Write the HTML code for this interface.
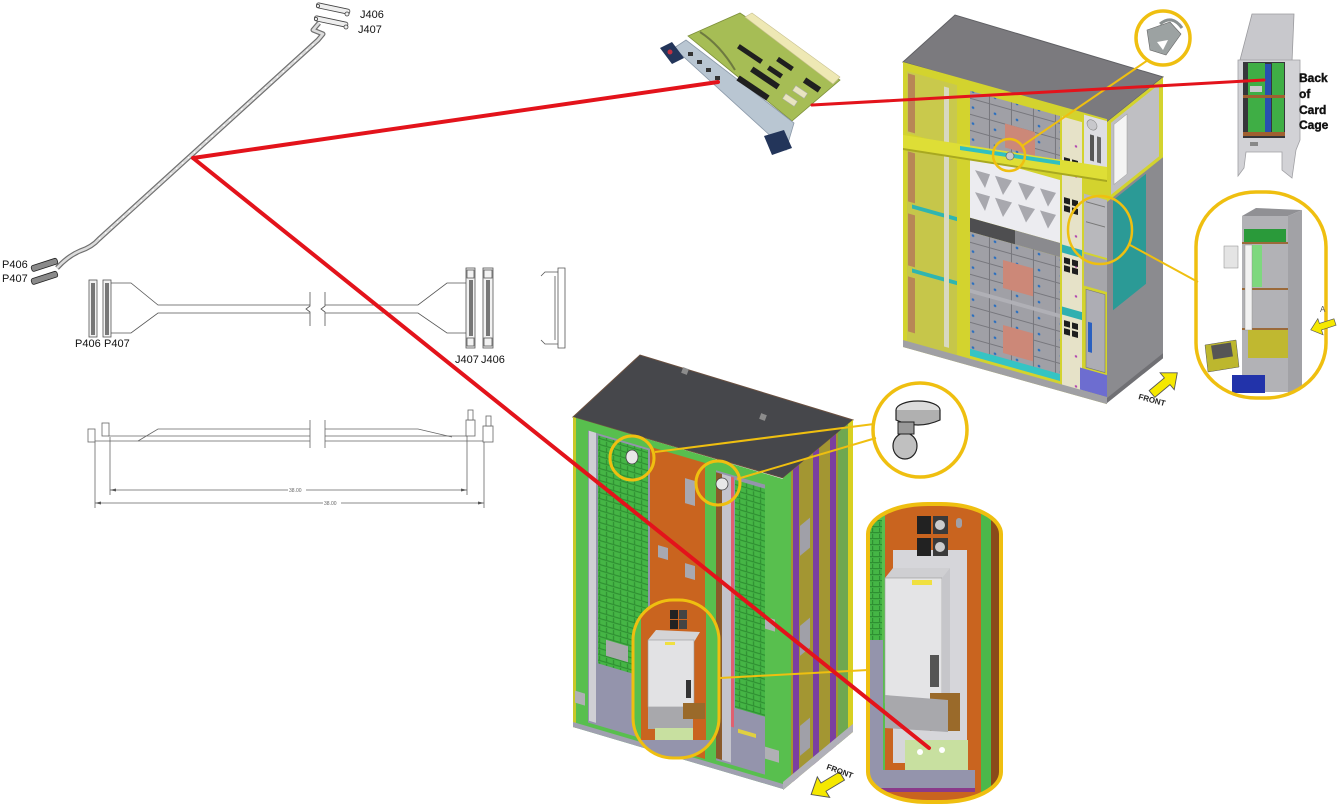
<!DOCTYPE html>
<html><head><meta charset="utf-8">
<style>
html,body{margin:0;padding:0;background:#fff;}
svg{display:block;}
text{font-family:"Liberation Sans",Arial,sans-serif;}
</style></head><body>
<svg width="1339" height="805" viewBox="0 0 1339 805" xmlns="http://www.w3.org/2000/svg">
<defs>
  <pattern id="pcb" width="7" height="6" patternUnits="userSpaceOnUse">
    <rect width="7" height="6" fill="#45b545"/>
    <rect x="0" y="4" width="7" height="1.2" fill="#2f8f32"/>
    <rect x="4" y="0" width="1.2" height="4" fill="#2f8f32"/>
  </pattern>
  <pattern id="mod" width="22" height="16" patternUnits="userSpaceOnUse">
    <rect width="22" height="16" fill="#a0a0a6"/>
    <rect x="0" y="15" width="22" height="1" fill="#77777d"/>
    <rect x="21" y="0" width="1" height="16" fill="#77777d"/>
    <circle cx="5" cy="8" r="1.3" fill="#2a6fc0"/>
  </pattern>
  <pattern id="beige" width="20" height="30" patternUnits="userSpaceOnUse">
    <rect width="20" height="30" fill="#e6e2c8"/>
    <circle cx="16" cy="8" r="1.2" fill="#b040b0"/>
  </pattern>
  <clipPath id="capL"><rect x="868" y="504" width="133" height="298" rx="60" ry="30"/></clipPath>
  <clipPath id="capS"><rect x="633" y="600" width="86" height="158" rx="40" ry="40"/></clipPath>
  <clipPath id="capR"><rect x="1196" y="192" width="130" height="206" rx="60" ry="55"/></clipPath>
</defs>
<rect width="1339" height="805" fill="#fff"/>

<!-- ============ Isometric cable (top-left) ============ -->
<path d="M57,268 Q68,256 80,251 Q92,247 99,239 L318,40 L323,34 L313,30 L319,23" fill="none" stroke="#6f6f6f" stroke-width="5" stroke-linejoin="round"/>
<path d="M57,268 Q68,256 80,251 Q92,247 99,239 L318,40 L323,34 L313,30 L319,23" fill="none" stroke="#dcdcdc" stroke-width="2.6" stroke-linejoin="round"/>
<path d="M99,239 L318,40" fill="none" stroke="#fff" stroke-width="1" stroke-dasharray="2 6"/>
<g stroke="#444" stroke-width="0.8" fill="#eee">
  <rect x="316" y="6" width="34" height="5" rx="2" transform="rotate(12 333 9)"/>
  <rect x="314" y="19" width="34" height="5" rx="2" transform="rotate(12 331 22)"/>
  <circle cx="347" cy="14" r="2"/><circle cx="346" cy="27" r="2"/>
  <circle cx="318" cy="6" r="1.6"/><circle cx="316" cy="19" r="1.6"/>
</g>
<g stroke="#222" stroke-width="0.8" fill="#8a8a8a">
  <rect x="31" y="262" width="27" height="6" rx="2" transform="rotate(-18 44 265)"/>
  <rect x="31" y="275" width="27" height="6" rx="2" transform="rotate(-18 44 278)"/>
</g>
<text x="360" y="18" font-size="11" fill="#111">J406</text>
<text x="358" y="33" font-size="11" fill="#111">J407</text>
<text x="2" y="268" font-size="11" fill="#111">P406</text>
<text x="2" y="282" font-size="11" fill="#111">P407</text>

<!-- ============ Flat cable drawing ============ -->
<g stroke="#555" stroke-width="0.8" fill="none">
  <rect x="89" y="280" width="8" height="57" fill="#f2f2f2"/>
  <rect x="103" y="280" width="8" height="57" fill="#f2f2f2"/>
  <path d="M111,283 L131,283 L158,305 L310,305 M111,333 L131,333 L158,313 L310,313"/>
  <path d="M325,305 L418,305 L447,283 L466,283 M325,313 L418,313 L447,333 L466,333"/>
  <path d="M310,292 L310,306 L306,309 L310,312 L310,326 M325,292 L325,306 L321,309 L325,312 L325,326"/>
  <rect x="466" y="268" width="9" height="80" fill="#f2f2f2"/>
  <rect x="483" y="268" width="10" height="80" fill="#f2f2f2"/>
  <rect x="467" y="270" width="7" height="8"/><rect x="467" y="338" width="7" height="8"/>
  <rect x="484" y="270" width="8" height="8"/><rect x="484" y="338" width="8" height="8"/>
  <path d="M558,268 L565,268 L565,348 L558,348 Z M558,272 L545,272 L541,276 M558,344 L545,344 L541,340 M555,276 L555,340"/>
</g>
<g fill="#777">
  <rect x="91" y="283" width="4" height="52"/><rect x="105" y="283" width="4" height="52"/>
  <rect x="469" y="280" width="4" height="56"/><rect x="486" y="280" width="4" height="56"/>
</g>
<text x="75" y="347" font-size="11" fill="#111">P406</text>
<text x="104" y="347" font-size="11" fill="#111">P407</text>
<text x="455" y="363" font-size="11" fill="#111">J407</text>
<text x="481" y="363" font-size="11" fill="#111">J406</text>

<!-- side view -->
<g stroke="#666" stroke-width="0.8" fill="none">
  <path d="M90,441 L310,441 M325,441 L493,441"/>
  <path d="M108,436 L310,436 M325,436 L467,436"/>
  <path d="M138,441 L158,429 L310,429 M325,429 L418,429 L452,437"/>
  <path d="M310,420 L310,448 M325,420 L325,448"/>
  <rect x="88" y="429" width="7" height="13" fill="#fff"/>
  <rect x="102" y="423" width="7" height="13" fill="#fff"/>
  <rect x="466" y="420" width="9" height="16" fill="#fff"/><rect x="468" y="410" width="5" height="10" fill="#fff"/>
  <rect x="483" y="426" width="10" height="16" fill="#fff"/><rect x="486" y="416" width="5" height="10" fill="#fff"/>
  <path d="M110,437 L110,495 M467,436 L467,495 M95,442 L95,508 M484,442 L484,508"/>
  <path d="M110,490 L467,490 M95,503 L484,503"/>
</g>
<g fill="#555"><path d="M110,490 l6,-1.5 l0,3z M467,490 l-6,-1.5 l0,3z M95,503 l6,-1.5 l0,3z M484,503 l-6,-1.5 l0,3z"/></g>
<rect x="288" y="487" width="18" height="6" fill="#fff"/><rect x="323" y="500" width="18" height="6" fill="#fff"/>
<text x="289" y="492" font-size="5" fill="#666">38.00</text>
<text x="324" y="505" font-size="5" fill="#666">38.00</text>

<!-- ============ PCB card ============ -->
<polygon points="688,36 740,13 840,80 792,121" fill="#a6bd55" stroke="#7d8f3a" stroke-width="0.8"/>
<polygon points="745,17 752,13 840,77 833,84" fill="#eee8b4" stroke="#c8c090" stroke-width="0.6"/>
<polygon points="674,48 686,40 794,123 786,150" fill="#b9c6d2" stroke="#8a98a8" stroke-width="0.8"/>
<g fill="#1f1f1f">
  <rect x="-14" y="-2.5" width="28" height="5" transform="translate(750,54) rotate(34)"/>
  <rect x="-16" y="-3" width="32" height="6" transform="translate(765,78) rotate(34)"/>
  <rect x="-18" y="-3" width="36" height="6" transform="translate(753,88) rotate(34)"/>
  <rect x="-9" y="-2.5" width="18" height="5" transform="translate(785,64) rotate(34)"/>
  <rect x="-8" y="-2.5" width="16" height="5" transform="translate(775,72) rotate(34)"/>
  <rect x="-9" y="-3" width="18" height="6" transform="translate(812,85) rotate(34)"/>
</g>
<g fill="#e8e4c0" stroke="#aaa" stroke-width="0.5">
  <rect x="-7" y="-3" width="14" height="6" transform="translate(790,100) rotate(34)"/>
  <rect x="-7" y="-3" width="14" height="6" transform="translate(800,92) rotate(34)"/>
</g>
<path d="M700,32 Q720,45 735,70" stroke="#6e7a40" stroke-width="2" fill="none"/>
<g fill="#333"><rect x="688" y="52" width="5" height="4"/><rect x="697" y="60" width="5" height="4"/><rect x="706" y="68" width="5" height="4"/><rect x="715" y="76" width="5" height="4"/></g>
<polygon points="660,48 672,42 684,58 672,64" fill="#23355a"/>
<circle cx="670" cy="52" r="2.5" fill="#c03040"/>
<polygon points="764,136 784,130 792,148 772,155" fill="#23355a"/>

<!-- ============ Upper cabinet ============ -->
<polygon points="903,62 955,15 1163,77 1107,122" fill="#7b7a7e" stroke="#606064" stroke-width="1"/>
<g transform="matrix(1,0.28,0,1,0,-252.84)">
  <rect x="903" y="62" width="204" height="285" fill="#d3d32e"/>
  <rect x="907" y="70" width="50" height="62" fill="#c9c94c"/>
  <rect x="908" y="72" width="7" height="58" fill="#b88656"/>
  <rect x="907" y="145" width="50" height="195" fill="#c6c64a"/>
  <rect x="908" y="150" width="7" height="50" fill="#b88656"/>
  <rect x="908" y="212" width="7" height="52" fill="#b88656"/>
  <rect x="908" y="275" width="7" height="55" fill="#b88656"/>
  <rect x="912" y="202" width="45" height="4" fill="#2fb5b0"/>
  <rect x="912" y="266" width="45" height="4" fill="#2fb5b0"/>
  <rect x="944" y="75" width="5" height="260" fill="#d8d8c0"/>
  <rect x="970" y="72" width="90" height="55" fill="url(#mod)"/>
  <rect x="1005" y="95" width="30" height="24" fill="#cc8878"/>
  <rect x="970" y="136" width="90" height="63" fill="#ececf0"/>
  <g fill="#a8a8ae">
    <polygon points="975,150 990,150 985,165"/><polygon points="995,150 1012,150 1003,167"/>
    <polygon points="1018,150 1035,150 1026,166"/><polygon points="1040,150 1056,150 1048,166"/>
    <polygon points="975,172 990,172 985,188"/><polygon points="995,172 1012,172 1003,189"/>
    <polygon points="1018,172 1035,172 1026,188"/><polygon points="1040,172 1056,172 1048,188"/>
  </g>
  <rect x="970" y="199" width="45" height="14" fill="#4e4e50"/>
  <rect x="1015" y="199" width="45" height="14" fill="#8a8a8e"/>
  <rect x="970" y="213" width="90" height="118" fill="url(#mod)"/>
  <rect x="1003" y="232" width="30" height="28" fill="#cc8878"/>
  <rect x="1003" y="297" width="30" height="28" fill="#cc8878"/>
  <rect x="970" y="270" width="90" height="4" fill="#b0b0b6"/>
  <rect x="970" y="330" width="90" height="7" fill="#35c4c4"/>
  <rect x="1062" y="72" width="20" height="270" fill="url(#beige)"/>
  <g fill="#1e1e1e">
    <rect x="1064" y="112" width="6" height="6"/><rect x="1072" y="112" width="6" height="6"/>
    <rect x="1064" y="120" width="6" height="6"/><rect x="1072" y="120" width="6" height="6"/>
    <rect x="1064" y="152" width="6" height="6"/><rect x="1072" y="152" width="6" height="6"/>
    <rect x="1064" y="160" width="6" height="6"/><rect x="1072" y="160" width="6" height="6"/>
    <rect x="1064" y="212" width="6" height="6"/><rect x="1072" y="212" width="6" height="6"/>
    <rect x="1064" y="220" width="6" height="6"/><rect x="1072" y="220" width="6" height="6"/>
    <rect x="1064" y="275" width="6" height="6"/><rect x="1072" y="275" width="6" height="6"/>
    <rect x="1064" y="283" width="6" height="6"/><rect x="1072" y="283" width="6" height="6"/>
  </g>
  <rect x="1062" y="200" width="20" height="8" fill="#30b0b0"/>
  <rect x="1062" y="262" width="20" height="8" fill="#30b0b0"/>
  <rect x="1084" y="64" width="23" height="60" fill="#dedee2"/>
  <circle cx="1092" cy="72" r="5" fill="#c8c8cc" stroke="#888" stroke-width="0.6"/>
  <rect x="1090" y="82" width="4" height="26" fill="#555"/><rect x="1097" y="82" width="4" height="26" fill="#666"/>
  <rect x="1084" y="143" width="23" height="58" fill="#b8b8bc"/>
  <rect x="1086" y="150" width="19" height="1" fill="#777"/><rect x="1086" y="170" width="19" height="1" fill="#777"/>
  <rect x="1084" y="203" width="23" height="32" fill="#a6a6aa"/>
  <rect x="1086" y="238" width="19" height="78" fill="#adadb4" stroke="#777" stroke-width="0.6"/>
  <rect x="1088" y="270" width="4" height="30" fill="#2a60c0"/>
  <rect x="1080" y="318" width="27" height="22" fill="#6d6dd0"/>
  <rect x="903" y="340" width="204" height="7" fill="#a0a0a4"/>
</g>
<!-- horizontal beam (actual coords, shallower slope) -->
<polygon points="903,135 1107,167 1107,181 903,149" fill="#dede36"/>
<polygon points="903,148 1107,180 1107,182 903,150" fill="#a8a820"/>
<polygon points="960,146 1060,161 1060,165 960,150" fill="#30c0c0"/>
<g transform="matrix(1,-0.8,0,1,0,885.6)">
  <rect x="1107" y="122" width="56" height="281" fill="#8b8b8f"/>
  <rect x="1109" y="124" width="52" height="76" fill="#bfbfc3" stroke="#d3d32e" stroke-width="4"/>
  <rect x="1114" y="130" width="13" height="60" fill="#f4f4f4" stroke="#999" stroke-width="0.5"/>
  <rect x="1113" y="205" width="33" height="110" fill="#2b9a96"/>
  <rect x="1107" y="398" width="56" height="5" fill="#707074"/>
</g>

<!-- ============ Lower cabinet ============ -->
<polygon points="573,417 640,355 853,420 783,478" fill="#46474b" stroke="#6a5040" stroke-width="1"/>
<rect x="682" y="368" width="6" height="6" fill="#8c8c8c" transform="rotate(20 685 371)"/>
<rect x="760" y="414" width="6" height="6" fill="#8c8c8c" transform="rotate(20 763 417)"/>
<g transform="matrix(1,0.295,0,1,0,-169.0)">
  <rect x="573" y="417" width="210" height="310" fill="#58bf4e"/>
  <rect x="573" y="417" width="3" height="310" fill="#c8c828"/>
  <rect x="588" y="426" width="62" height="292" fill="#9494ac"/>
  <rect x="598" y="428" width="50" height="228" fill="url(#pcb)"/>
  <rect x="589" y="426" width="7" height="290" fill="#cfcfd4"/>
  <rect x="606" y="630" width="22" height="16" fill="#a8a8ac"/>
  <rect x="650" y="424" width="55" height="296" fill="#c9641f"/>
  <rect x="685" y="445" width="10" height="25" fill="#a8a8b0"/>
  <rect x="658" y="520" width="10" height="12" fill="#a8a8b0"/>
  <rect x="685" y="530" width="10" height="14" fill="#a8a8b0"/>
  <rect x="716" y="428" width="49" height="290" fill="#9494ac"/>
  <rect x="735" y="432" width="30" height="228" fill="url(#pcb)"/>
  <rect x="716" y="430" width="6" height="286" fill="#8a5a2a"/>
  <rect x="722" y="430" width="9" height="286" fill="#c4c4cc"/>
  <rect x="731" y="430" width="3" height="250" fill="#e06070"/>
  <rect x="738" y="680" width="18" height="4" fill="#e0d040"/>
  <rect x="575" y="690" width="10" height="12" fill="#b0b0b4"/>
  <rect x="765" y="560" width="10" height="12" fill="#b0b0b4"/>
  <rect x="765" y="690" width="14" height="12" fill="#b0b0b4"/>
  <rect x="573" y="722" width="210" height="5" fill="#a0a0b0"/>
</g>
<g transform="matrix(1,-0.83,0,1,0,649.9)">
  <rect x="783" y="478" width="70" height="312" fill="#a39632"/>
  <rect x="783" y="478" width="8" height="312" fill="#58bf4e"/>
  <rect x="793" y="478" width="6" height="312" fill="#7b3fa0"/>
  <rect x="813" y="478" width="6" height="312" fill="#7b3fa0"/>
  <rect x="830" y="478" width="6" height="312" fill="#7b3fa0"/>
  <rect x="838" y="478" width="10" height="312" fill="#6fa850"/>
  <rect x="848" y="478" width="5" height="312" fill="#d8d020"/>
  <rect x="800" y="540" width="10" height="30" fill="#a0a0a8"/>
  <rect x="800" y="640" width="10" height="30" fill="#a0a0a8"/>
  <rect x="800" y="740" width="10" height="30" fill="#a0a0a8"/>
  <rect x="783" y="782" width="70" height="8" fill="#b0b0b8"/>
</g>

<!-- small capsule contents (lower cabinet) -->
<g clip-path="url(#capS)">
  <rect x="633" y="600" width="86" height="158" fill="#c9641f"/>
  <rect x="633" y="600" width="8" height="158" fill="#58bf4e"/>
  <rect x="706" y="600" width="13" height="158" fill="#58bf4e"/>
  <rect x="670" y="610" width="8" height="9" fill="#222"/><rect x="679" y="610" width="8" height="9" fill="#444"/>
  <rect x="670" y="620" width="8" height="9" fill="#222"/><rect x="679" y="620" width="8" height="9" fill="#444"/>
  <polygon points="648,640 656,630 700,632 694,642" fill="#d4d4d6"/>
  <rect x="648" y="640" width="46" height="67" fill="#e2e2e4" stroke="#999" stroke-width="0.6"/>
  <rect x="665" y="642" width="10" height="3" fill="#f0e040"/>
  <rect x="686" y="680" width="5" height="18" fill="#333"/>
  <rect x="648" y="707" width="45" height="22" fill="#a8a8ac"/>
  <rect x="683" y="703" width="22" height="16" fill="#9a6a2a"/>
  <rect x="655" y="728" width="38" height="24" fill="#c8e0a0"/>
  <rect x="641" y="740" width="70" height="18" fill="#9494ac"/>
</g>

<!-- ============ Right: back of card cage ============ -->
<polygon points="1240,60 1252,14 1294,14 1292,62" fill="#c8c8cc" stroke="#9a9a9e" stroke-width="0.8"/>
<polygon points="1238,60 1300,60 1300,140 1296,150 1292,178 1282,170 1282,152 1246,152 1244,168 1238,176" fill="#d2d2d6" stroke="#a0a0a4" stroke-width="0.8"/>
<rect x="1243" y="62" width="42" height="76" fill="#36363a"/>
<rect x="1248" y="63" width="17" height="72" fill="#3fae45"/>
<rect x="1272" y="63" width="12" height="72" fill="#3fae45"/>
<rect x="1265" y="64" width="6" height="70" fill="#2850b0"/>
<rect x="1243" y="95" width="42" height="3" fill="#a06030"/>
<rect x="1243" y="132" width="42" height="4" fill="#a06030"/>
<rect x="1250" y="86" width="12" height="6" fill="#c8c8cc"/>
<rect x="1250" y="142" width="8" height="4" fill="#888"/>
<g font-size="12" font-weight="bold" fill="#111" stroke="#111" stroke-width="0.4">
<text x="1299" y="82">Back</text>
<text x="1299" y="98">of</text>
<text x="1299" y="114">Card</text>
<text x="1299" y="129">Cage</text>
</g>

<!-- right capsule contents -->
<g clip-path="url(#capR)">
  <polygon points="1242,216 1256,208 1302,210 1288,216" fill="#909094"/>
  <rect x="1242" y="216" width="46" height="176" fill="#b2b2b6"/>
  <polygon points="1288,216 1302,210 1302,388 1288,395" fill="#a2a2a6"/>
  <rect x="1244" y="229" width="42" height="13" fill="#2a9a3a"/>
  <rect x="1242" y="242" width="46" height="2" fill="#9b6a3a"/>
  <rect x="1242" y="288" width="46" height="2" fill="#9b6a3a"/>
  <rect x="1242" y="328" width="46" height="2" fill="#9b6a3a"/>
  <rect x="1252" y="245" width="10" height="42" fill="#7ed87e"/>
  <rect x="1245" y="245" width="7" height="85" fill="#f2f2f2" stroke="#888" stroke-width="0.4"/>
  <rect x="1224" y="246" width="14" height="22" fill="#e4e4e4" stroke="#888" stroke-width="0.5"/>
  <rect x="1248" y="330" width="40" height="28" fill="#c0b830"/>
  <polygon points="1205,345 1236,340 1239,367 1208,372" fill="#bdb72e" stroke="#555" stroke-width="0.5"/>
  <rect x="1212" y="344" width="20" height="14" fill="#555" transform="rotate(-9 1222 351)"/>
  <rect x="1232" y="375" width="33" height="18" fill="#2233aa"/>
</g>

<!-- big lower capsule contents -->
<g clip-path="url(#capL)">
  <rect x="868" y="504" width="133" height="298" fill="#c9641f"/>
  <rect x="868" y="504" width="17" height="298" fill="#58bf4e"/>
  <rect x="870" y="520" width="12" height="120" fill="url(#pcb)"/>
  <rect x="870" y="640" width="13" height="150" fill="#9494ac"/>
  <rect x="981" y="504" width="10" height="298" fill="#4cb84a"/>
  <rect x="991" y="504" width="10" height="298" fill="#8a4a1a"/>
  <rect x="893" y="550" width="74" height="213" fill="#d6d6da"/>
  <rect x="917" y="516" width="14" height="18" fill="#222"/><rect x="933" y="516" width="15" height="18" fill="#3a3a3a"/>
  <rect x="917" y="538" width="14" height="18" fill="#222"/><rect x="933" y="538" width="15" height="18" fill="#3a3a3a"/>
  <circle cx="940" cy="525" r="5" fill="#ccc"/><circle cx="940" cy="547" r="5" fill="#ccc"/>
  <rect x="956" y="518" width="6" height="10" rx="3" fill="#a0a0a8"/>
  <polygon points="885,578 893,568 950,568 942,578" fill="#cfcfd2"/>
  <rect x="885" y="578" width="57" height="125" fill="#e4e4e6" stroke="#999" stroke-width="0.6"/>
  <polygon points="942,578 950,568 950,695 942,703" fill="#c6c6ca"/>
  <rect x="912" y="580" width="20" height="5" fill="#f0e040"/>
  <rect x="930" y="655" width="9" height="32" fill="#555"/>
  <rect x="930" y="693" width="30" height="38" fill="#9a6a2a"/>
  <polygon points="885,695 948,700 948,732 885,728" fill="#a8a8ac"/>
  <rect x="905" y="740" width="63" height="30" fill="#c8e0a0"/>
  <circle cx="920" cy="752" r="3" fill="#fff"/><circle cx="942" cy="750" r="3" fill="#fff"/>
  <rect x="880" y="770" width="95" height="22" fill="#9494ac"/>
  <rect x="880" y="788" width="95" height="4" fill="#8a3a8a"/>
</g>

<!-- big circle fixture (lower) -->
<circle cx="920" cy="430" r="47" fill="#fff"/>
<ellipse cx="918" cy="410" rx="22" ry="9" fill="#dcdcdc" stroke="#222" stroke-width="1.2"/>
<path d="M896,410 L896,420 Q918,430 940,420 L940,410" fill="#b0b0b0" stroke="#222" stroke-width="1.2"/>
<ellipse cx="905" cy="446" rx="12" ry="13" fill="#c0c0c0" stroke="#222" stroke-width="1.2"/>
<rect x="898" y="422" width="16" height="12" fill="#999" stroke="#222" stroke-width="1"/>
<!-- upper circle bracket -->
<circle cx="1163" cy="38" r="27" fill="#fff"/>
<polygon points="1147,30 1170,22 1181,34 1166,55 1150,50" fill="#9ca2a2" stroke="#666" stroke-width="0.6"/>
<polygon points="1157,42 1168,40 1163,50" fill="#fff"/>
<path d="M1160,24 Q1172,14 1182,28" stroke="#8a9090" stroke-width="3" fill="none"/>

<!-- ============ Yellow callouts ============ -->
<g fill="none" stroke="#efbf10">
  <circle cx="1163" cy="38" r="27" stroke-width="3.5"/>
  <circle cx="1009" cy="155" r="16" stroke-width="2.5"/>
  <line x1="1022" y1="146" x2="1148" y2="60" stroke-width="2"/>
  <ellipse cx="1100" cy="230" rx="32" ry="34" stroke-width="2.5"/>
  <line x1="1130" y1="245" x2="1198" y2="282" stroke-width="2"/>
  <rect x="1196" y="192" width="130" height="206" rx="60" ry="55" stroke-width="3.5"/>
  <circle cx="632" cy="458" r="22" stroke-width="3"/>
  <circle cx="718" cy="483" r="22" stroke-width="3"/>
  <circle cx="920" cy="430" r="47" stroke-width="3.5"/>
  <line x1="655" y1="452" x2="874" y2="424" stroke-width="2"/>
  <line x1="737" y1="479" x2="876" y2="438" stroke-width="2"/>
  <rect x="633" y="600" width="86" height="158" rx="40" ry="40" stroke-width="3"/>
  <line x1="720" y1="678" x2="868" y2="670" stroke-width="2"/>
  <rect x="868" y="504" width="133" height="298" rx="60" ry="30" stroke-width="4"/>
</g>
<ellipse cx="632" cy="457" rx="6" ry="7" fill="#e8e8e8" stroke="#444" stroke-width="0.8"/>
<ellipse cx="722" cy="484" rx="6" ry="6" fill="#e8e8e8" stroke="#444" stroke-width="0.8"/>
<circle cx="1010" cy="156" r="4" fill="#c8c8c8" stroke="#555" stroke-width="0.6"/>

<!-- FRONT arrows -->
<g transform="translate(1152,394) rotate(-40) scale(1.1)">
  <polygon points="0,-4 18,-4 18,-10 30,0 18,10 18,4 0,4" fill="#f5e800" stroke="#555" stroke-width="0.8"/>
</g>
<text x="0" y="0" font-size="8" font-weight="bold" fill="#222" transform="translate(1138,399) rotate(15)">FRONT</text>
<g transform="translate(842,776) rotate(149) scale(1.2)">
  <polygon points="0,-4 18,-4 18,-10 30,0 18,10 18,4 0,4" fill="#f5e800" stroke="#555" stroke-width="0.8"/>
</g>
<text x="0" y="0" font-size="8" font-weight="bold" fill="#222" transform="translate(826,769) rotate(20)">FRONT</text>
<g transform="translate(1335,322) rotate(162) scale(0.85)">
  <polygon points="0,-4 18,-4 18,-10 30,0 18,10 18,4 0,4" fill="#f5e800" stroke="#555" stroke-width="0.8"/>
</g>
<text x="1320" y="312" font-size="8" fill="#555">A</text>

<!-- ============ Red lines ============ -->
<g stroke="#e3131b" stroke-linecap="round" fill="none">
  <line x1="193" y1="158" x2="718" y2="82" stroke-width="4"/>
  <line x1="812" y1="105" x2="1264" y2="80" stroke-width="3"/>
  <line x1="193" y1="158" x2="929" y2="748" stroke-width="4"/>
</g>
</svg>
</body></html>
